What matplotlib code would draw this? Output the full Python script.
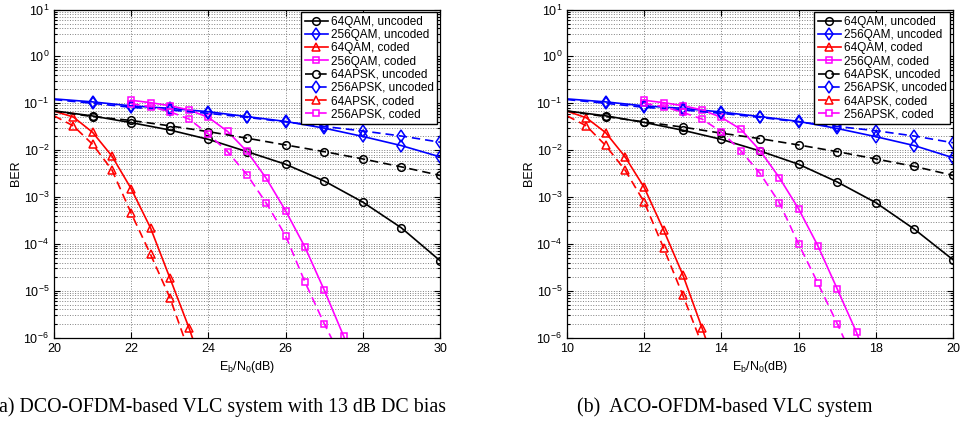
import matplotlib
matplotlib.use("Agg")
import matplotlib.pyplot as plt
from matplotlib.ticker import LogLocator, NullFormatter

plt.rcParams['font.family'] = ['Liberation Sans', 'DejaVu Sans']
plt.rcParams['mathtext.default'] = 'regular'

labels = ['64QAM, uncoded', '256QAM, uncoded', '64QAM, coded', '256QAM, coded',
          '64APSK, uncoded', '256APSK, uncoded', '64APSK, coded', '256APSK, coded']

# ---------- panel (a): DCO-OFDM ----------
a_x_unc = [20, 21, 22, 23, 24, 25, 26, 27, 28, 29, 30]
a_qam64_unc = [0.069, 0.0536, 0.0386, 0.0269, 0.017, 0.0093, 0.005, 0.0022, 7.8e-4, 2.2e-4, 4.4e-5]
a_qam256_unc = [0.124, 0.107, 0.088, 0.078, 0.066, 0.052, 0.041, 0.0295, 0.0196, 0.0125, 0.0072]
a_apsk64_unc = [0.068, 0.052, 0.043, 0.033, 0.0248, 0.018, 0.0129, 0.0093, 0.0065, 0.0044, 0.0029]
a_apsk256_unc = [0.12, 0.1, 0.082, 0.072, 0.061, 0.05, 0.04, 0.032, 0.0257, 0.02, 0.0148]
a_x_qam64_cod = [20, 20.5, 21, 21.5, 22, 22.5, 23, 23.5, 24]
a_qam64_cod = [0.068, 0.051, 0.024, 0.0075, 0.0015, 2.2e-4, 1.9e-5, 1.6e-6, 1e-7]
a_x_apsk64_cod = [20, 20.5, 21, 21.5, 22, 22.5, 23, 23.5]
a_apsk64_cod = [0.054, 0.033, 0.0133, 0.0038, 4.5e-4, 6e-5, 7.2e-6, 5e-7]
a_x_qam256_cod = [22, 22.5, 23, 23.5, 24, 24.5, 25, 25.5, 26, 26.5, 27, 27.5, 28]
a_qam256_cod = [0.116, 0.103, 0.089, 0.072, 0.05, 0.025, 0.0094, 0.0025, 5.1e-4, 8.6e-5, 1.04e-5, 1.1e-6, 1e-7]
a_x_apsk256_cod = [22, 22.5, 23, 23.5, 24, 24.5, 25, 25.5, 26, 26.5, 27, 27.5]
a_apsk256_cod = [0.098, 0.085, 0.066, 0.046, 0.022, 0.0092, 0.003, 7.4e-4, 1.5e-4, 1.55e-5, 2.0e-6, 3e-7]
a_xticks = [20, 22, 24, 26, 28, 30]

# ---------- panel (b): ACO-OFDM ----------
b_x_unc = [10, 11, 12, 13, 14, 15, 16, 17, 18, 19, 20]
b_qam64_unc = [0.0685, 0.054, 0.039, 0.0266, 0.017, 0.0096, 0.005, 0.0021, 7.6e-4, 2.06e-4, 4.6e-5]
b_qam256_unc = [0.124, 0.107, 0.088, 0.078, 0.065, 0.052, 0.041, 0.029, 0.0194, 0.0125, 0.0069]
b_apsk64_unc = [0.068, 0.052, 0.040, 0.031, 0.023, 0.0176, 0.0129, 0.0093, 0.0065, 0.0045, 0.0029]
b_apsk256_unc = [0.12, 0.1, 0.082, 0.072, 0.061, 0.05, 0.04, 0.032, 0.026, 0.020, 0.0144]
b_x_qam64_cod = [10, 10.5, 11, 11.5, 12, 12.5, 13, 13.5, 14]
b_qam64_cod = [0.068, 0.049, 0.0237, 0.0073, 0.0016, 2.0e-4, 2.2e-5, 1.6e-6, 1e-7]
b_x_apsk64_cod = [10, 10.5, 11, 11.5, 12, 12.5, 13, 13.5]
b_apsk64_cod = [0.054, 0.033, 0.0126, 0.0038, 7.8e-4, 8.3e-5, 8.1e-6, 7e-7]
b_x_qam256_cod = [12, 12.5, 13, 13.5, 14, 14.5, 15, 15.5, 16, 16.5, 17, 17.5, 18]
b_qam256_cod = [0.116, 0.103, 0.089, 0.072, 0.05, 0.028, 0.0098, 0.0026, 5.6e-4, 9.1e-5, 1.1e-5, 1.3e-6, 1e-7]
b_x_apsk256_cod = [12, 12.5, 13, 13.5, 14, 14.5, 15, 15.5, 16, 16.5, 17, 17.5]
b_apsk256_cod = [0.1, 0.085, 0.064, 0.046, 0.0245, 0.0098, 0.0032, 7.6e-4, 1.0e-4, 1.45e-5, 2.0e-6, 2.5e-7]
b_xticks = [10, 12, 14, 16, 18, 20]

captions = ['a) DCO-OFDM-based VLC system with 13 dB DC bias', '(b)  ACO-OFDM-based VLC system']

W, H = 961, 425
fig = plt.figure(figsize=(W / 100, H / 100), dpi=100)

def px_axes(x0, x1, ytop, ybot):
    return fig.add_axes([x0 / W, 1 - ybot / H, (x1 - x0) / W, (ybot - ytop) / H])

ax_a = px_axes(54, 440, 9.5, 337.7)
ax_b = px_axes(567, 953, 9.5, 337.7)

dash = (0, (5, 3))
ms = 5.5
lw = 1.2

def draw(ax, xu, q64u, q256u, a64u, a256u, xq64c, q64c, xa64c, a64c, xq256c, q256c, xa256c, a256c, xticks):
    skip = slice(1, None)
    ax.plot(xu, q64u, color='k', ls='-', lw=lw, marker='o', ms=ms, mfc='none', mew=1.1, markevery=skip, label=labels[0])
    ax.plot(xu, q256u, color='#0000ff', ls='-', lw=lw, marker='d', ms=ms + 0.5, mfc='none', mew=1.1, markevery=skip, label=labels[1])
    ax.plot(xq64c, q64c, color='#ff0000', ls='-', lw=lw, marker='^', ms=ms + 0.5, mfc='none', mew=1.1, markevery=skip, label=labels[2])
    ax.plot(xq256c, q256c, color='#ff00ff', ls='-', lw=lw, marker='s', ms=ms - 0.5, mfc='none', mew=1.1, label=labels[3])
    ax.plot(xu, a64u, color='k', ls=dash, lw=lw, marker='o', ms=ms, mfc='none', mew=1.1, markevery=skip, label=labels[4])
    ax.plot(xu, a256u, color='#0000ff', ls=dash, lw=lw, marker='d', ms=ms + 0.5, mfc='none', mew=1.1, markevery=skip, label=labels[5])
    ax.plot(xa64c, a64c, color='#ff0000', ls=dash, lw=lw, marker='^', ms=ms + 0.5, mfc='none', mew=1.1, markevery=skip, label=labels[6])
    ax.plot(xa256c, a256c, color='#ff00ff', ls=dash, lw=lw, marker='s', ms=ms - 0.5, mfc='none', mew=1.1, label=labels[7])
    ax.set_yscale('log')
    ax.set_ylim(1e-6, 10)
    ax.set_xlim(xticks[0], xticks[-1])
    ax.set_xticks(xticks)
    ax.yaxis.set_major_locator(LogLocator(base=10, numticks=20))
    ax.yaxis.set_minor_locator(LogLocator(base=10, subs=range(2, 10), numticks=100))
    ax.yaxis.set_minor_formatter(NullFormatter())
    ax.tick_params(which='both', direction='in', top=True, right=True, labelsize=9, width=0.8)
    ax.tick_params(which='major', length=4)
    ax.tick_params(which='minor', length=2)
    ax.grid(True, which='major', ls=':', color='#808080', lw=0.7)
    ax.grid(True, which='minor', axis='y', ls=':', color='#808080', lw=0.7)
    for s in ax.spines.values():
        s.set_linewidth(0.9)
    ax.set_ylabel('BER', fontsize=9, labelpad=1)
    ax.set_xlabel('E$_b$/N$_0$(dB)', fontsize=9, labelpad=3)
    leg = ax.legend(loc='upper right', fontsize=8.5, handlelength=2.0, handletextpad=0.2,
                    labelspacing=0.1, borderpad=0.3, borderaxespad=0.25, fancybox=False,
                    framealpha=1, edgecolor='k')
    leg.get_frame().set_linewidth(1.0)

draw(ax_a, a_x_unc, a_qam64_unc, a_qam256_unc, a_apsk64_unc, a_apsk256_unc,
     a_x_qam64_cod, a_qam64_cod, a_x_apsk64_cod, a_apsk64_cod,
     a_x_qam256_cod, a_qam256_cod, a_x_apsk256_cod, a_apsk256_cod, a_xticks)
draw(ax_b, b_x_unc, b_qam64_unc, b_qam256_unc, b_apsk64_unc, b_apsk256_unc,
     b_x_qam64_cod, b_qam64_cod, b_x_apsk64_cod, b_apsk64_cod,
     b_x_qam256_cod, b_qam256_cod, b_x_apsk256_cod, b_apsk256_cod, b_xticks)

fig.text(446 / W, 1 - 407 / H, captions[0], ha='right', va='center', fontsize=14.3, family='Liberation Serif')
fig.text(577 / W, 1 - 407 / H, captions[1], ha='left', va='center', fontsize=14.3, family='Liberation Serif')

fig.savefig('out.png', dpi=100)
